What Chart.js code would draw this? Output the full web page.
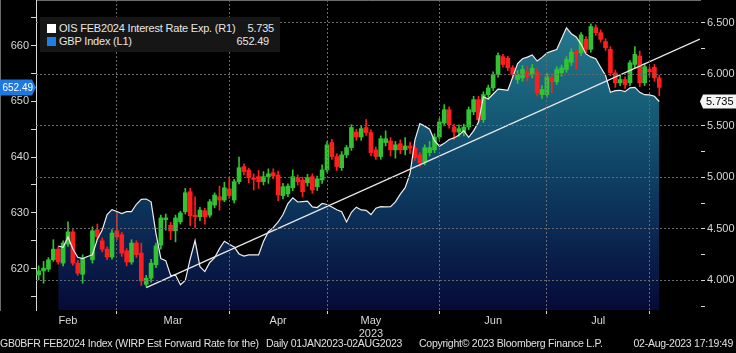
<!DOCTYPE html>
<html>
<head>
<meta charset="utf-8">
<script src="https://cdn.jsdelivr.net/npm/chart.js@4.4.0/dist/chart.umd.min.js"></script>
<style>
  html, body { margin: 0; padding: 0; background: #000; }
  #wrap { position: relative; width: 736px; height: 353px; overflow: hidden; background: #000; }
  #legend { position: absolute; left: 40px; top: 17px; width: 240px; height: 35px; background: #161616;
            font: 11px "Liberation Sans", Arial, sans-serif; color: #e6e6e6; letter-spacing: -0.2px; }
  #legend .row { position: absolute; left: 0; width: 240px; height: 13px; line-height: 13px; }
  #legend .sw { position: absolute; left: 7px; top: 2px; width: 9px; height: 9px; }
  #legend .name { position: absolute; left: 19px; }
  #legend .val { position: absolute; }
  #footer { position: absolute; left: 0; top: 337px; width: 736px; height: 14px;
            font: 10.5px "Liberation Sans", Arial, sans-serif; color: #e0e0e0; letter-spacing: -0.25px; white-space: nowrap; }
  #footer span { position: absolute; top: 0; }
</style>
</head>
<body>
<div id="wrap">
  <canvas id="chart" width="736" height="353"></canvas>
  <div id="legend">
    <div class="row" style="top:5px"><span class="sw" style="background:#fff"></span><span class="name">OIS FEB2024 Interest Rate Exp. (R1)</span><span class="val" style="right:6px">5.735</span></div>
    <div class="row" style="top:18px"><span class="sw" style="background:#1f7fe5"></span><span class="name">GBP Index (L1)</span><span class="val" style="right:11px">652.49</span></div>
  </div>
  <div id="footer">
    <span style="left:0">GB0BFR FEB2024 Index (WIRP Est Forward Rate for the)</span>
    <span style="left:266px">Daily 01JAN2023-02AUG2023</span>
    <span style="left:419px">Copyright© 2023 Bloomberg Finance L.P.</span>
    <span style="right:3px">02-Aug-2023 17:19:49</span>
  </div>
</div>
<script>
// GBP Index daily candles, 7 Feb - 2 Aug 2023 (one entry per trading day)
const opens = [
  618.9, 619.6, 619.9, 621.6, 623.5, 621.0, 624.4, 626.6, 621.0, 619.0,
  null, 621.6, 627.0, 625.0, 623.5, 622.1, 626.8, 626.1, 623.2, 621.2,
  624.6, 622.8, 617.2, 618.3, 620.7, 624.2, 628.8, 627.8, 626.8, 628.4,
  630.2, 633.8, 629.6, 629.3, 630.4, 629.6, 631.4, 632.9, 632.3, 634.3,
  632.3, 635.6, 638.3, 637.7, 636.2, 636.5, 635.6, 636.5, 637.2, 636.8,
  633.1, 633.4, 634.5, 636.3, 635.9, 635.4, 636.5, 634.7, 635.9, 637.7,
  642.6, 640.1, 638.1, 640.4, 641.7, 644.5, 643.6, 645.3, 644.4, 641.3,
  640.1, 642.6, 642.9, 641.3, 642.4, 641.3, 642.0, 641.6, 640.4, 639.1,
  640.8, 641.3, 643.6, 646.1, 648.5, 645.4, 644.5, 644.4, 645.4, 648.1,
  650.3, 646.7, 651.2, 652.4, 654.8, 658.0, 657.7, 656.0, 653.9, 654.2,
  655.3, 654.8, 655.3, 651.2, 651.2, 654.2, 653.5, 655.1, 655.7, 657.0,
  658.9, 658.7, 661.1, 659.3, 663.2, 662.3, 660.7, 659.3, 655.1, 653.3,
  653.9, 653.3, 656.6, 658.1, 653.3, 655.7, 656.1, 654.2
];
const highs = [
  620.5, 621.3, 622.0, 625.2, 623.9, 625.0, 628.4, 627.0, 621.5, 622.5,
  null, 627.5, 628.0, 625.5, 623.9, 627.0, 630.2, 626.5, 623.6, 625.2,
  625.0, 624.6, 618.8, 621.7, 624.6, 629.6, 629.8, 628.3, 629.6, 630.3,
  634.4, 634.4, 632.9, 631.0, 630.8, 632.4, 633.6, 634.8, 635.5, 636.3,
  636.0, 640.0, 638.8, 638.0, 637.0, 637.6, 637.4, 637.9, 637.9, 637.5,
  635.3, 635.2, 637.7, 636.8, 636.4, 636.9, 637.0, 636.6, 638.6, 642.8,
  643.2, 640.6, 641.0, 642.1, 645.8, 645.0, 645.6, 646.7, 644.9, 641.8,
  643.8, 644.7, 643.5, 642.8, 643.1, 643.5, 642.7, 642.1, 640.8, 642.2,
  642.8, 644.2, 646.9, 649.4, 649.0, 645.9, 645.8, 645.9, 649.0, 650.9,
  650.9, 651.7, 652.9, 655.3, 658.7, 658.4, 658.1, 656.4, 655.5, 656.4,
  656.3, 656.6, 655.9, 652.8, 655.0, 654.9, 656.2, 656.5, 658.0, 659.4,
  659.3, 662.3, 661.6, 663.9, 663.7, 662.8, 661.2, 659.8, 655.6, 654.6,
  654.4, 657.3, 659.8, 659.0, 656.8, 656.2, 656.6, 654.7
];
const lows = [
  618.0, 617.4, 619.5, 621.3, 620.8, 620.5, 624.0, 620.6, 618.8, 617.4,
  null, 621.0, 625.2, 623.0, 621.6, 621.7, 625.2, 622.2, 620.5, 620.8,
  622.0, 617.0, 616.8, 617.6, 620.2, 623.5, 626.9, 625.2, 624.8, 628.0,
  629.8, 627.7, 627.3, 628.6, 628.0, 629.2, 630.9, 630.5, 632.0, 632.6,
  631.8, 635.2, 636.8, 635.4, 634.1, 634.4, 635.0, 635.3, 636.1, 632.2,
  632.5, 632.9, 634.0, 635.0, 632.9, 634.8, 633.5, 634.0, 635.3, 637.3,
  639.6, 637.6, 637.6, 639.9, 641.2, 643.0, 643.0, 643.9, 640.2, 639.6,
  639.6, 642.0, 640.2, 639.8, 640.6, 640.4, 640.6, 639.4, 638.3, 638.6,
  640.2, 640.8, 643.2, 645.6, 645.2, 643.1, 643.7, 643.8, 644.9, 647.6,
  646.2, 646.2, 650.7, 651.9, 654.3, 656.1, 655.5, 654.0, 653.2, 653.6,
  653.7, 654.2, 650.9, 650.5, 650.7, 651.5, 653.0, 654.5, 655.2, 656.4,
  655.7, 658.2, 658.7, 658.8, 661.8, 660.6, 659.1, 654.6, 652.5, 652.8,
  652.3, 652.8, 656.0, 652.6, 652.8, 654.6, 653.6, 651.0
];
const closes = [
  619.6, 620.1, 621.6, 623.5, 621.2, 624.6, 626.6, 621.0, 619.2, 621.9,
  null, 626.8, 625.7, 623.5, 622.1, 626.4, 625.7, 622.8, 621.2, 624.6,
  622.5, 617.8, 618.3, 621.0, 624.1, 629.1, 629.1, 626.8, 629.1, 630.0,
  633.6, 629.5, 629.3, 630.5, 629.3, 632.0, 633.2, 632.3, 634.5, 633.1,
  635.6, 638.1, 637.4, 636.3, 636.0, 635.6, 636.5, 637.0, 636.6, 633.2,
  634.7, 634.8, 636.5, 635.6, 633.8, 636.3, 634.1, 636.1, 637.7, 642.2,
  640.1, 638.3, 640.4, 641.7, 645.3, 643.6, 645.1, 644.4, 640.8, 640.1,
  643.3, 643.3, 641.3, 642.2, 641.3, 642.0, 641.6, 639.9, 639.0, 641.7,
  641.7, 643.6, 646.3, 648.5, 645.8, 644.5, 645.1, 645.4, 648.5, 650.3,
  646.7, 651.2, 652.4, 654.8, 658.2, 656.6, 656.0, 654.8, 654.8, 655.7,
  654.4, 655.9, 651.5, 652.1, 654.4, 653.5, 655.7, 656.0, 657.5, 658.8,
  658.5, 661.9, 659.3, 663.4, 662.3, 661.1, 659.6, 655.1, 653.3, 653.9,
  653.0, 656.9, 658.4, 653.3, 656.2, 655.3, 654.2, 652.49
];
// OIS FEB2024 implied rate (right axis), same trading days
const oisRate = [
  null, null, null, null, 4.333, 4.321, 4.420, 4.304, 4.223, 4.211,
  4.231, 4.248, 4.398, 4.489, 4.638, 4.686, 4.668, 4.648, 4.666, 4.666,
  4.738, 4.786, 4.789, 4.762, 4.454, 4.212, 4.191, 4.047, 4.051, 3.957,
  3.998, 4.207, 4.386, 4.132, 4.085, 4.173, 4.219, 4.307, 4.379, 4.350,
  4.324, 4.256, 4.235, 4.246, 4.246, 4.246, 4.377, 4.472, 4.511, 4.566,
  4.638, 4.745, 4.801, 4.760, 4.764, 4.769, 4.713, 4.706, 4.746, 4.736,
  4.712, 4.684, 4.666, 4.566, 4.660, 4.710, 4.683, 4.679, 4.638, 4.700,
  4.715, 4.712, 4.714, 4.761, 4.837, 4.899, 5.039, 5.362, 5.521, 5.496,
  5.466, 5.354, 5.302, 5.329, 5.367, 5.382, 5.411, 5.450, 5.387, 5.450,
  5.533, 5.780, 5.760, 5.808, 5.855, 5.851, 5.844, 5.972, 6.103, 6.150,
  6.166, 6.187, 6.128, 6.163, 6.206, 6.224, 6.240, 6.343, 6.450, 6.393,
  6.362, 6.290, 6.197, 6.168, 6.151, 6.068, 5.988, 5.824, 5.841, 5.844,
  5.831, 5.868, 5.872, 5.824, 5.801, 5.799, 5.786, 5.735
];
// hand-drawn trend line on the rate axis (start / end)
const trendX = [22, 135.3];
const trendY = [3.93, 6.34];

// axis ticks (x in trading-day units)
const monthNames = ['Feb', 'Mar', 'Apr', 'May', 'Jun', 'Jul'];
const monthMids = [6, 27.5, 49, 68, 93, 114.5];
const monthBreaks = [16, 39, 59, 82, 104, 125];
const gbpTicks = [615, 620, 625, 630, 635, 640, 645, 650, 655, 660, 665];
const rateTicks = [3.75, 4, 4.25, 4.5, 4.75, 5, 5.25, 5.5, 5.75, 6, 6.25, 6.5];

const UP = '#33c233';
const DOWN = '#ff1d1d';
const AXIS = '#d8d8d8';
const GRID = '#6a6a6a';
const NONE = 'rgba(0,0,0,0)';
const FONT = { family: '"Liberation Sans", Arial, sans-serif', size: 11 };

const bodies = [], wicks = [], bodyColors = [];
closes.forEach((c, i) => {
  if (c === null) return;
  bodies.push({ x: i, y: [opens[i], c] });
  wicks.push({ x: i, y: [lows[i], highs[i]] });
  bodyColors.push(c >= opens[i] ? UP : DOWN);
});
const oisPoints = [];
oisRate.forEach((v, i) => { if (v !== null) oisPoints.push({ x: i, y: v }); });

// x ticks = month breaks (grid + tick mark) and month middles (label only)
const xTicks = monthBreaks.concat(monthMids).sort((a, b) => a - b);
const xGridColors = xTicks.map(v => monthBreaks.includes(v) ? GRID : NONE);
const xTickColors = xTicks.map(v => monthBreaks.includes(v) ? AXIS : NONE);
const isMajorRate = v => Math.round(v * 100) % 50 === 0;
const rateGridColors = rateTicks.map(v => isMajorRate(v) ? GRID : NONE);

function areaFill(ctx) {
  const area = ctx.chart.chartArea;
  if (!area) return NONE;
  const g = ctx.chart.ctx.createLinearGradient(0, area.top, 0, area.bottom);
  g.addColorStop(0, '#2a8292');
  g.addColorStop(0.35, '#165c77');
  g.addColorStop(0.7, '#0b2f58');
  g.addColorStop(1, '#060a38');
  return g;
}

function fixBox(w, h) {
  return function (scale) {
    if (w) scale.width = w;
    if (h) scale.height = h;
    scale.paddingTop = 0; scale.paddingBottom = 0;
    scale.paddingLeft = 0; scale.paddingRight = 0;
  };
}

// blue / white last-value tags on the two axes
const lastTags = {
  id: 'lastTags',
  afterDraw(chart) {
    const c = chart.ctx, a = chart.chartArea;
    const last = closes[closes.length - 1];
    const lastRate = oisRate[oisRate.length - 1];
    const yl = chart.scales.y.getPixelForValue(last);
    const yr = chart.scales.y1.getPixelForValue(lastRate);
    c.save();
    c.textBaseline = 'middle';
    c.fillStyle = '#1f78e0';
    c.beginPath();
    c.moveTo(0, yl - 8); c.lineTo(a.left - 4, yl - 8); c.lineTo(a.left, yl);
    c.lineTo(a.left - 4, yl + 8); c.lineTo(0, yl + 8); c.closePath(); c.fill();
    c.font = '10px "Liberation Sans", Arial, sans-serif';
    c.fillStyle = '#fff'; c.textAlign = 'right';
    c.fillText(last.toFixed(2), a.left - 3, yl + 0.5);
    c.fillStyle = '#f4f4f4';
    c.beginPath();
    c.moveTo(a.right, yr); c.lineTo(a.right + 3, yr - 7); c.lineTo(736, yr - 7);
    c.lineTo(736, yr + 7); c.lineTo(a.right + 3, yr + 7); c.closePath(); c.fill();
    c.font = '11px "Liberation Sans", Arial, sans-serif';
    c.fillStyle = '#000'; c.textAlign = 'left';
    c.fillText(lastRate.toFixed(3), a.right + 6, yr + 0.5);
    c.restore();
  }
};

new Chart(document.getElementById('chart').getContext('2d'), {
  type: 'bar',
  data: {
    datasets: [
      {
        type: 'line', label: 'OIS line', data: oisPoints, yAxisID: 'y1',
        borderColor: '#eeeeee', borderWidth: 1.2, pointRadius: 0, fill: false, order: 1
      },
      {
        type: 'line', label: 'Trend', data: [{ x: trendX[0], y: trendY[0] }, { x: trendX[1], y: trendY[1] }],
        yAxisID: 'y1', borderColor: '#e8e8e8', borderWidth: 1.3, pointRadius: 0, fill: false, order: 0
      },
      {
        label: 'Body', data: bodies, yAxisID: 'y', backgroundColor: bodyColors,
        barThickness: 4, grouped: false, minBarLength: 1, order: 2
      },
      {
        label: 'Wick', data: wicks, yAxisID: 'y', backgroundColor: bodyColors,
        barThickness: 1, grouped: false, order: 3
      },
      {
        type: 'line', label: 'OIS area', data: oisPoints, yAxisID: 'y1',
        borderWidth: 0, pointRadius: 0, fill: 'start', backgroundColor: areaFill, order: 5
      }
    ]
  },
  options: {
    responsive: false,
    animation: false,
    devicePixelRatio: 1,
    layout: { padding: 0 },
    plugins: { legend: { display: false }, tooltip: { enabled: false } },
    scales: {
      x: {
        type: 'linear', position: 'bottom', min: -0.55, max: 135.33, offset: false,
        afterBuildTicks: s => { s.ticks = xTicks.map(v => ({ value: v })); },
        afterFit: fixBox(0, 43),
        ticks: {
          autoSkip: false, maxRotation: 0, color: AXIS, font: FONT, padding: 0,
          callback: v => {
            const k = monthMids.indexOf(v);
            if (k < 0) return '';
            return monthNames[k] === 'May' ? ['May', '2023'] : monthNames[k];
          }
        },
        grid: {
          offset: false, drawOnChartArea: true, tickLength: 4, z: 1,
          color: xGridColors, tickColor: xTickColors
        },
        border: { color: AXIS, width: 1, dash: [2, 2] }
      },
      y: {
        type: 'linear', position: 'left', min: 612.6, max: 668.15,
        afterBuildTicks: s => { s.ticks = gbpTicks.map(v => ({ value: v })); },
        afterFit: fixBox(36, 0),
        ticks: { color: AXIS, font: FONT, padding: 2, callback: v => (v % 10 === 0 ? String(v) : '') },
        grid: { drawOnChartArea: false, tickLength: 5, tickColor: AXIS },
        border: { color: AXIS, width: 1 }
      },
      y1: {
        type: 'linear', position: 'right', min: 3.712, max: 6.72,
        afterBuildTicks: s => { s.ticks = rateTicks.map(v => ({ value: v })); },
        afterFit: fixBox(36, 0),
        ticks: {
          color: AXIS, font: FONT, padding: 2,
          callback: v => (isMajorRate(v) ? v.toFixed(3) : '')
        },
        grid: {
          drawOnChartArea: true, tickLength: 5, tickColor: AXIS, z: 1,
          color: rateGridColors
        },
        border: { color: AXIS, width: 1, dash: [2, 2] }
      }
    }
  },
  plugins: [lastTags]
});
</script>
</body>
</html>
